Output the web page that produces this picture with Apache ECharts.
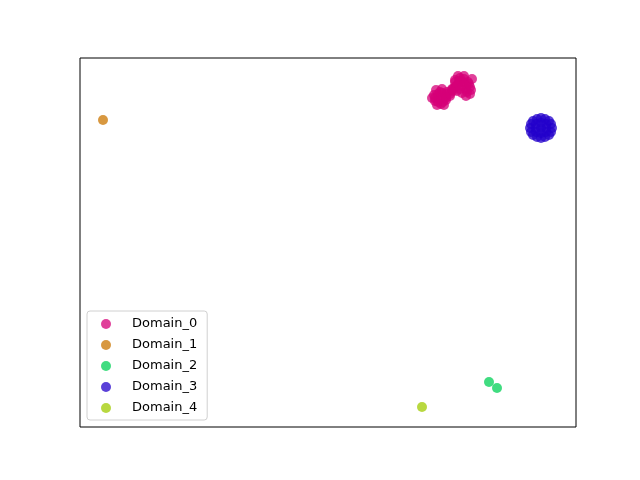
<!DOCTYPE html>
<html>
<head>
<meta charset="utf-8">
<script src="https://cdn.jsdelivr.net/npm/echarts@6/dist/echarts.min.js"></script>
<style>html,body{margin:0;padding:0;background:#fff}#c{width:640px;height:480px}</style>
</head>
<body>
<div id="c"></div>
<script>
var domains = ['Domain_0', 'Domain_1', 'Domain_2', 'Domain_3', 'Domain_4'];
var colors = ['#d50078', '#cb7500', '#00d055', '#2300cb', '#a0cb00'];
var domain0 = [[355,329],[358,333],[362,334],[365,330],[363,325],[358,325],[360,329],[355,326],[366,327],[361,323],[354,332],[352,329],[357,322],[364,322],[367,333],[360,335],[356,337],[362,338],[367,335],[370,331],[372,337],[366,329],[370,333],[373,336],[374,339],[376,341],[379,346],[384,348],[388,345],[390,340],[387,335],[382,334],[377,336],[382,341],[386,342],[380,349],[372,338],[378,343],[383,345],[386,338],[380,338],[389,343],[375,345],[391,337],[384,351],[375,347],[378,351],[390,333],[386,331],[392,348]];
var domain1 = [[23,307]];
var domain2 = [[409,45],[417,39]];
var domain3 = [[450,299],[451,303],[451,295],[453,306],[453,292],[457,308],[457,290],[461,309],[461,289],[465,308],[465,290],[469,306],[469,292],[471,303],[471,295],[472,299],[461,299],[456,299],[466,299],[461,304],[461,294],[456,303],[456,295],[466,303],[466,295]];
var domain4 = [[342,20]];
var seriesData = [domain0, domain1, domain2, domain3, domain4];

var chart = echarts.init(document.getElementById('c'));
chart.setOption({
  animation: false,
  backgroundColor: '#fff',
  grid: {left: 80, top: 58, width: 496, height: 369, show: true, borderColor: '#000', borderWidth: 1, backgroundColor: 'transparent'},
  xAxis: {type: 'value', min: 0, max: 496, axisLine: {show: false}, axisTick: {show: false}, axisLabel: {show: false}, splitLine: {show: false}},
  yAxis: {type: 'value', min: 0, max: 369, axisLine: {show: false}, axisTick: {show: false}, axisLabel: {show: false}, splitLine: {show: false}},
  legend: {
    orient: 'vertical', left: 87, top: 311,
    padding: [6, 10, 5, 14],
    itemWidth: 10, itemHeight: 10, itemGap: 7,
    icon: 'circle',
    borderColor: '#d0d0d0', borderWidth: 1, borderRadius: 3,
    backgroundColor: 'rgba(255,255,255,0.8)',
    textStyle: {fontFamily: 'DejaVu Sans', fontSize: 13, color: '#000', lineHeight: 14, padding: [0, 0, 0, 16]},
    data: domains
  },
  series: domains.map(function (name, i) {
    return {
      name: name, type: 'scatter', symbolSize: 10,
      itemStyle: {color: colors[i], opacity: 0.75},
      emphasis: {disabled: true},
      data: seriesData[i]
    };
  })
});
</script>
</body>
</html>
